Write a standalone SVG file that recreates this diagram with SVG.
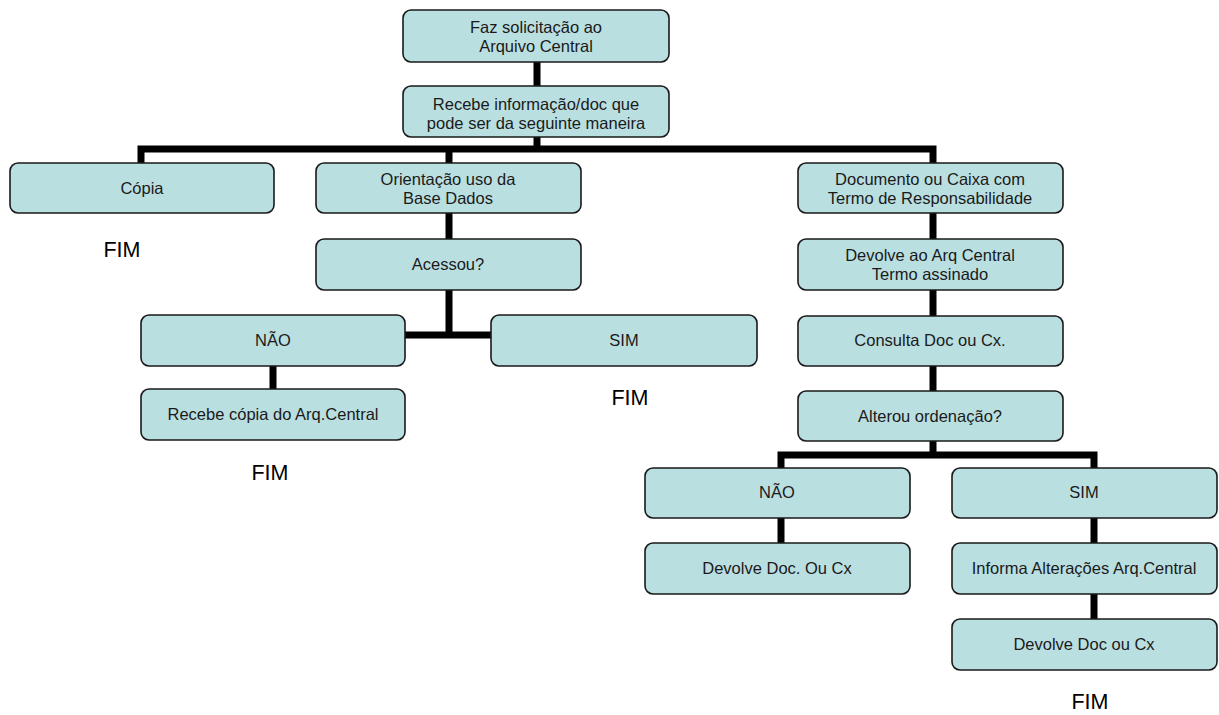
<svg xmlns="http://www.w3.org/2000/svg" width="1219" height="715" viewBox="0 0 1219 715">
<style>
.box{fill:#badfe1;stroke:#1a1a1a;stroke-width:1.6}
.t{font-family:"Liberation Sans",Arial,sans-serif;font-size:16.5px;fill:#1a1a1a;text-anchor:middle;dominant-baseline:central}
.fim{font-family:"Liberation Sans",Arial,sans-serif;font-size:21.5px;fill:#000;text-anchor:middle;dominant-baseline:central}
.c{stroke:#000;stroke-width:7;fill:none}
</style>
<rect width="1219" height="715" fill="#fff"/>
<g id="connectors">
<path class="c" d="M537 62V86"/>
<path class="c" d="M537 137V149"/>
<path class="c" d="M141 163V149H933V163"/>
<path class="c" d="M449 149V163"/>
<path class="c" d="M449 213V239"/>
<path class="c" d="M449 290V335"/>
<path class="c" d="M405 335H491"/>
<path class="c" d="M273 366V389"/>
<path class="c" d="M933 213V239"/>
<path class="c" d="M933 290V316"/>
<path class="c" d="M933 366V391"/>
<path class="c" d="M933 441V455"/>
<path class="c" d="M781 468V455H1094V468"/>
<path class="c" d="M781 518V543"/>
<path class="c" d="M1094 518V543"/>
<path class="c" d="M1094 594V619"/>
</g>
<g id="n1"><rect class="box" x="403" y="10" width="266" height="52" rx="8"/><text class="t" x="536" y="27">Faz solicitação ao</text><text class="t" x="536" y="46">Arquivo Central</text></g>
<g id="n2"><rect class="box" x="403" y="86" width="266" height="51" rx="8"/><text class="t" x="536" y="104">Recebe informação/doc que</text><text class="t" x="536" y="123">pode ser da seguinte maneira</text></g>
<g id="n3"><rect class="box" x="10" y="163" width="264" height="50" rx="8"/><text class="t" x="142" y="188">Cópia</text></g>
<g id="n4"><rect class="box" x="316" y="163" width="265" height="50" rx="8"/><text class="t" x="448" y="179">Orientação uso da</text><text class="t" x="448" y="198">Base Dados</text></g>
<g id="n5"><rect class="box" x="798" y="163" width="265" height="50" rx="8"/><text class="t" x="930" y="179">Documento ou Caixa com</text><text class="t" x="930" y="198">Termo de Responsabilidade</text></g>
<g id="n6"><rect class="box" x="316" y="239" width="265" height="51" rx="8"/><text class="t" x="448" y="264">Acessou?</text></g>
<g id="n7"><rect class="box" x="141" y="315" width="264" height="51" rx="8"/><text class="t" x="273" y="340">NÃO</text></g>
<g id="n8"><rect class="box" x="491" y="315" width="266" height="51" rx="8"/><text class="t" x="624" y="340">SIM</text></g>
<g id="n9"><rect class="box" x="141" y="389" width="264" height="51" rx="8"/><text class="t" x="273" y="414">Recebe cópia do Arq.Central</text></g>
<g id="n10"><rect class="box" x="798" y="239" width="265" height="51" rx="8"/><text class="t" x="930" y="255">Devolve ao Arq Central</text><text class="t" x="930" y="274">Termo assinado</text></g>
<g id="n11"><rect class="box" x="798" y="316" width="265" height="50" rx="8"/><text class="t" x="930" y="340">Consulta Doc ou Cx.</text></g>
<g id="n12"><rect class="box" x="798" y="391" width="265" height="50" rx="8"/><text class="t" x="930" y="416">Alterou ordenação?</text></g>
<g id="n13"><rect class="box" x="645" y="468" width="265" height="50" rx="8"/><text class="t" x="777" y="492">NÃO</text></g>
<g id="n14"><rect class="box" x="952" y="468" width="265" height="50" rx="8"/><text class="t" x="1084" y="492">SIM</text></g>
<g id="n15"><rect class="box" x="645" y="543" width="265" height="51" rx="8"/><text class="t" x="777" y="568">Devolve Doc. Ou Cx</text></g>
<g id="n16"><rect class="box" x="952" y="543" width="265" height="51" rx="8"/><text class="t" x="1084" y="568">Informa Alterações Arq.Central</text></g>
<g id="n17"><rect class="box" x="952" y="619" width="265" height="51" rx="8"/><text class="t" x="1084" y="644">Devolve Doc ou Cx</text></g>
<g id="fims">
<text class="fim" x="122" y="250">FIM</text>
<text class="fim" x="630" y="398">FIM</text>
<text class="fim" x="270" y="473">FIM</text>
<text class="fim" x="1090" y="702">FIM</text>
</g>
</svg>
